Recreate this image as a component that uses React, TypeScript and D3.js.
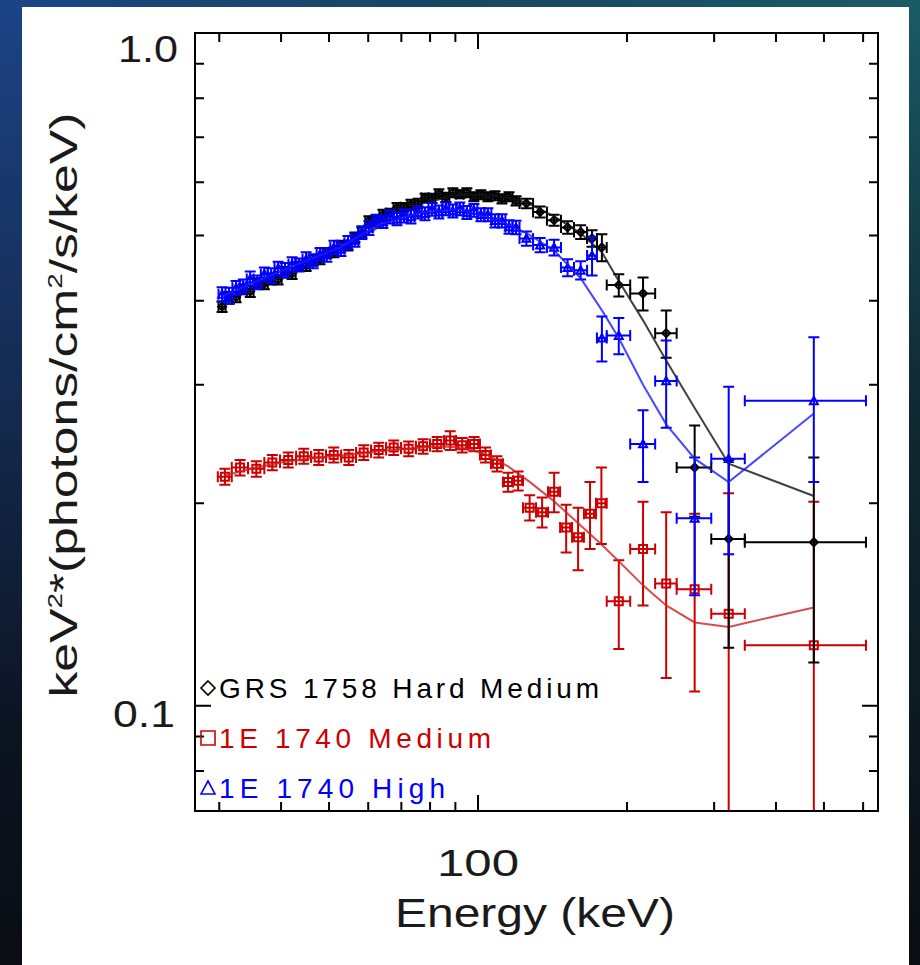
import React from "react";
import * as d3 from "d3";

const WIDTH = 920;
const HEIGHT = 965;

// Energy bin edges (keV) for the GRS 1758 and 1E 1740 High spectra
const edgesFine = [
  29.9, 30.9, 31.9, 33.0, 34.1, 35.2, 36.4, 37.6, 38.8, 40.1,
  41.4, 42.8, 44.2, 45.7, 47.2, 48.7, 50.3, 52.0, 53.7, 55.5,
  57.3, 59.2, 61.2, 63.2, 65.3, 67.5, 69.7, 72.0, 74.4, 76.9,
  79.4, 82.0, 84.7, 87.5, 90.4, 93.4, 96.5, 99.7, 103.0, 106.4,
  110.0, 113.6, 117.4, 121.3, 129.2, 137.8, 147.1, 156.3, 166.1, 173.9,
  182, 203, 228, 252, 296, 346, 608,
];

// Energy bin edges (keV) for the 1E 1740 Medium spectrum
const edgesCoarse = [
  29.8, 31.8, 34.3, 37.0, 39.8, 42.9, 46.0, 49.3, 52.9, 56.7,
  60.8, 65.2, 69.9, 74.9, 80.0, 85.4, 90.3, 95.5, 100.9, 106.2,
  112.3, 117.7, 123.3, 131.0, 138.5, 146.5, 154.9, 163.7, 173.1, 182,
  203, 228, 252, 296, 346, 608,
];

// GRS 1758 Hard Medium: keV^2 * photons/cm^2/s/keV
const grsFlux = [
  0.392, 0.404, 0.405, 0.416, 0.413, 0.425, 0.424, 0.431, 0.430, 0.441,
  0.439, 0.450, 0.451, 0.459, 0.461, 0.470, 0.472, 0.483, 0.483, 0.497,
  0.505, 0.526, 0.526, 0.537, 0.540, 0.550, 0.551, 0.556, 0.558, 0.569,
  0.568, 0.577, 0.570, 0.579, 0.576, 0.579, 0.571, 0.575, 0.571, 0.573,
  0.567, 0.571, 0.563,
  0.558, 0.542, 0.527, 0.514, 0.506, 0.495, 0.480,
  0.422, 0.410, 0.358, 0.226, 0.177, 0.175,
];
const grsErr = [
  0.007, 0.008, 0.007, 0.007, 0.008, 0.007, 0.008, 0.008, 0.007, 0.008,
  0.008, 0.007, 0.008, 0.008, 0.008, 0.007, 0.008, 0.008, 0.008, 0.008,
  0.009, 0.008, 0.008, 0.009, 0.008, 0.009, 0.008, 0.009, 0.009, 0.008,
  0.009, 0.009, 0.009, 0.009, 0.008, 0.009, 0.009, 0.009, 0.009, 0.009,
  0.009, 0.009, 0.009,
  0.009, 0.010, 0.010, 0.011, 0.012, 0.014, 0.022,
  0.016, 0.023, 0.029, 0.035, 0.055, 0.059,
];

// 1E 1740 High
const highFlux = [
  0.409, 0.407, 0.418, 0.420, 0.431, 0.426, 0.438, 0.436, 0.447, 0.444,
  0.453, 0.452, 0.461, 0.458, 0.469, 0.468, 0.480, 0.477, 0.488, 0.492,
  0.505, 0.513, 0.526, 0.524, 0.533, 0.529, 0.535, 0.533, 0.541, 0.539,
  0.547, 0.542, 0.548, 0.544, 0.548, 0.541, 0.545, 0.537, 0.537, 0.526,
  0.526, 0.515, 0.514,
  0.495, 0.484, 0.480, 0.448, 0.444, 0.467, 0.352,
  0.355, 0.245, 0.304, 0.190, 0.233, 0.284,
];
const highErr = [
  0.010, 0.011, 0.010, 0.010, 0.011, 0.010, 0.010, 0.011, 0.010, 0.011,
  0.011, 0.010, 0.011, 0.011, 0.010, 0.011, 0.011, 0.011, 0.011, 0.011,
  0.011, 0.012, 0.011, 0.011, 0.012, 0.011, 0.012, 0.012, 0.011, 0.012,
  0.012, 0.012, 0.012, 0.012, 0.012, 0.012, 0.012, 0.012, 0.012, 0.012,
  0.012, 0.012, 0.012,
  0.012, 0.012, 0.013, 0.013, 0.014, 0.031, 0.027,
  0.022, 0.030, 0.045, 0.044, 0.065, 0.069,
];

// 1E 1740 Medium
const medFlux = [
  0.219, 0.226, 0.225, 0.230, 0.232, 0.235, 0.234, 0.236, 0.234, 0.238,
  0.240, 0.242, 0.241, 0.243, 0.245, 0.248, 0.244, 0.245, 0.236, 0.229,
  0.215, 0.216, 0.197, 0.194, 0.208, 0.184, 0.178, 0.193, 0.200,
  0.143, 0.171, 0.152, 0.149, 0.137, 0.123,
];
const medErr = [
  0.006, 0.006, 0.006, 0.006, 0.006, 0.006, 0.006, 0.006, 0.006, 0.006,
  0.006, 0.006, 0.006, 0.006, 0.006, 0.008, 0.006, 0.006, 0.006, 0.006,
  0.007, 0.007, 0.0085, 0.010, 0.014, 0.015, 0.019, 0.022, 0.026,
  0.0215, 0.030, 0.042, 0.044, 0.070, 0.078,
];

// Best-fit model curves, evaluated at bin centres (keV)
const modelEnergyA = [30.4, 36.3, 43.7, 52.6, 63.4, 76.4, 92.0, 110.8, 125.3, 142.5, 161.2, 178, 192.5, 215.5, 240, 274, 321, 477];
const grsModel = [0.399, 0.423, 0.447, 0.477, 0.516, 0.557, 0.576, 0.572, 0.560, 0.534, 0.504, 0.472, 0.428, 0.374, 0.326, 0.277, 0.229, 0.205];
const highModel = [0.406, 0.430, 0.455, 0.480, 0.520, 0.540, 0.547, 0.525, 0.504, 0.475, 0.432, 0.387, 0.352, 0.300, 0.262, 0.233, 0.215, 0.272];
const modelEnergyB = [30.8, 35.6, 41.3, 47.5, 54.6, 62.8, 72.2, 82.6, 92.8, 103.3, 115.0, 127.4, 141.7, 159.2, 177.2, 192.5, 215.5, 240, 274, 321, 477];
const medModel = [0.220, 0.226, 0.231, 0.234, 0.236, 0.239, 0.241, 0.243, 0.242, 0.237, 0.227, 0.215, 0.202, 0.187, 0.174, 0.164, 0.151, 0.141, 0.133, 0.131, 0.140];

// Axis ticks
const xMajorTicks = [100];
const xMinorTicks = [30, 40, 50, 60, 70, 80, 90, 200, 300, 400, 500, 600];
const yMajorTicks = [0.1, 1.0];
const yMinorTicks = [0.08, 0.09, 0.2, 0.3, 0.4, 0.5, 0.6, 0.7, 0.8, 0.9];
const xTickLabels = ["100"];
const yTickLabels = ["0.1", "1.0"];

// Legend entries
const legendLabels = ["GRS 1758 Hard Medium", "1E 1740 Medium", "1E 1740 High"];
const legendColors = ["#000000", "#cc0000", "#0000ff"];
const legendShapes = ["diamond", "square", "triangle"];

// Layout of the legend rows (baseline y and text run length in px)
const LEGEND_ROW_Y = [688, 738, 788];
const LEGEND_TEXT_LEN = [380, 272, 226];

const FONT = "'Liberation Sans', Arial, Helvetica, sans-serif";

type Shape = "diamond" | "square" | "triangle";

function markerPath(shape: Shape, cx: number, cy: number, s: number): string {
  if (shape === "diamond") return `M${cx},${cy - s}L${cx + s},${cy}L${cx},${cy + s}L${cx - s},${cy}Z`;
  if (shape === "square") return `M${cx - s},${cy - s}H${cx + s}V${cy + s}H${cx - s}Z`;
  return `M${cx},${cy - s}L${cx + s},${cy + s * 0.85}L${cx - s},${cy + s * 0.85}Z`;
}

function Spectrum(props: {
  edges: number[];
  flux: number[];
  err: number[];
  color: string;
  shape: Shape;
  x: d3.ScaleLogarithmic<number, number>;
  y: d3.ScaleLogarithmic<number, number>;
}) {
  const { edges, flux, err, color, shape, x, y } = props;
  const cap = 5.5;
  return (
    <g stroke={color} strokeWidth={2} fill="none">
      {flux.map((v, i) => {
        const lo = edges[i];
        const hi = edges[i + 1];
        const cx = x((lo + hi) / 2);
        const cy = y(v);
        const x0 = x(lo);
        const x1 = x(hi);
        const top = y(v + err[i]);
        const low = v - err[i];
        const bot = low > 0 ? y(low) : HEIGHT + 20;
        const d =
          `M${cx},${top}V${bot}` +
          `M${cx - cap},${top}H${cx + cap}` +
          `M${cx - cap},${bot}H${cx + cap}` +
          `M${x0},${cy}H${x1}` +
          `M${x0},${cy - cap}V${cy + cap}` +
          `M${x1},${cy - cap}V${cy + cap}`;
        return (
          <g key={i}>
            <path d={d} />
            <path d={markerPath(shape, cx, cy, 4)} />
          </g>
        );
      })}
    </g>
  );
}

export default function App() {
  const left = 195;
  const right = 878;
  const top = 33;
  const bottom = 811;

  const x = d3.scaleLog().domain([26.8, 643]).range([left, right]);
  const y = d3.scaleLog().domain([0.07, 1.0]).range([bottom - 1, top]);

  const line = (es: number[], vs: number[]) =>
    d3.line<number>().x((_, i) => x(es[i])).y((v) => y(v))(vs) || "";

  const majorLen = 16;
  const minorLen = 9;

  const tickPath =
    xMajorTicks.map((t) => `M${x(t)},${bottom}v${-majorLen}M${x(t)},${top}v${majorLen}`).join("") +
    xMinorTicks.map((t) => `M${x(t)},${bottom}v${-minorLen}M${x(t)},${top}v${minorLen}`).join("") +
    yMajorTicks.map((t) => `M${left},${y(t)}h${majorLen}M${right},${y(t)}h${-majorLen}`).join("") +
    yMinorTicks.map((t) => `M${left},${y(t)}h${minorLen}M${right},${y(t)}h${-minorLen}`).join("");

  return (
    <svg
      width={WIDTH}
      height={HEIGHT}
      viewBox={`0 0 ${WIDTH} ${HEIGHT}`}
      style={{ position: "absolute", left: 0, top: 0, display: "block" }}
    >
      <defs>
        <linearGradient id="bgLeft" x1="0" y1="0" x2="0" y2="1">
          <stop offset="0" stopColor="#1b4486" />
          <stop offset="0.45" stopColor="#14284a" />
          <stop offset="0.75" stopColor="#0c1422" />
          <stop offset="1" stopColor="#0a0d12" />
        </linearGradient>
        <linearGradient id="bgTop" x1="0" y1="0" x2="1" y2="0">
          <stop offset="0" stopColor="#1b4486" />
          <stop offset="0.5" stopColor="#17475f" />
          <stop offset="1" stopColor="#1a5b66" />
        </linearGradient>
        <linearGradient id="bgRight" x1="0" y1="0" x2="0" y2="1">
          <stop offset="0" stopColor="#1a5b66" />
          <stop offset="0.4" stopColor="#112a33" />
          <stop offset="1" stopColor="#0a0d12" />
        </linearGradient>
        <clipPath id="plotClip">
          <rect x={left} y={top} width={right - left} height={bottom - top} />
        </clipPath>
      </defs>

      <rect x={0} y={0} width={WIDTH} height={HEIGHT} fill="url(#bgLeft)" />
      <rect x={0} y={0} width={WIDTH} height={8} fill="url(#bgTop)" />
      <rect x={909} y={0} width={11} height={HEIGHT} fill="url(#bgRight)" />
      <rect x={22} y={7} width={887} height={HEIGHT - 7} fill="#ffffff" />

      <g clipPath="url(#plotClip)">
        <Spectrum edges={edgesCoarse} flux={medFlux} err={medErr} color="#cc0000" shape="square" x={x} y={y} />
        <path d={line(modelEnergyB, medModel)} fill="none" stroke="#cc2020" strokeWidth={2} strokeOpacity={0.8} />
        <Spectrum edges={edgesFine} flux={grsFlux} err={grsErr} color="#000000" shape="diamond" x={x} y={y} />
        <path d={line(modelEnergyA, grsModel)} fill="none" stroke="#111111" strokeWidth={2} strokeOpacity={0.8} />
        <Spectrum edges={edgesFine} flux={highFlux} err={highErr} color="#0000ff" shape="triangle" x={x} y={y} />
        <path d={line(modelEnergyA, highModel)} fill="none" stroke="#1a1aff" strokeWidth={2} strokeOpacity={0.8} />
      </g>

      {/* Frame and ticks */}
      <rect x={left} y={top} width={right - left} height={bottom - top} fill="none" stroke="#000" strokeWidth={2} />
      <path d={tickPath} stroke="#000" strokeWidth={2} fill="none" />

      {/* Tick labels */}
      <g fontFamily={FONT} fill="#1a1a1a" fontSize={36}>
        <text x={x(xMajorTicks[0])} y={876} textAnchor="middle" textLength={82} lengthAdjust="spacingAndGlyphs">
          {xTickLabels[0]}
        </text>
        <text x={175} y={727} textAnchor="end" textLength={62} lengthAdjust="spacingAndGlyphs">
          {yTickLabels[0]}
        </text>
        <text x={178} y={62} textAnchor="end" textLength={60} lengthAdjust="spacingAndGlyphs">
          {yTickLabels[1]}
        </text>
      </g>

      {/* Axis titles */}
      <text x={535} y={927} textAnchor="middle" fontFamily={FONT} fontSize={40} fill="#1a1a1a" textLength={280} lengthAdjust="spacingAndGlyphs">
        Energy (keV)
      </text>
      <text
        transform="translate(77,405) rotate(-90)"
        textAnchor="middle"
        fontFamily={FONT}
        fontSize={39}
        fill="#1a1a1a"
        textLength={585}
        lengthAdjust="spacingAndGlyphs"
      >
        keV<tspan fontSize={21} dy={-15}>2</tspan>
        <tspan dy={15}>*(photons/cm</tspan>
        <tspan fontSize={21} dy={-15}>2</tspan>
        <tspan dy={15}>/s/keV)</tspan>
      </text>

      {/* Legend */}
      <g fontFamily={FONT} fontSize={28}>
        {legendLabels.map((label, i) => (
          <g key={label}>
            <path
              d={markerPath(legendShapes[i] as Shape, 208, LEGEND_ROW_Y[i], 7)}
              fill="none"
              stroke={legendColors[i]}
              strokeWidth={1.6}
            />
            <text
              x={219}
              y={LEGEND_ROW_Y[i] + 10}
              fill={legendColors[i]}
              textLength={LEGEND_TEXT_LEN[i]}
              lengthAdjust="spacing"
            >
              {label}
            </text>
          </g>
        ))}
      </g>
    </svg>
  );
}
